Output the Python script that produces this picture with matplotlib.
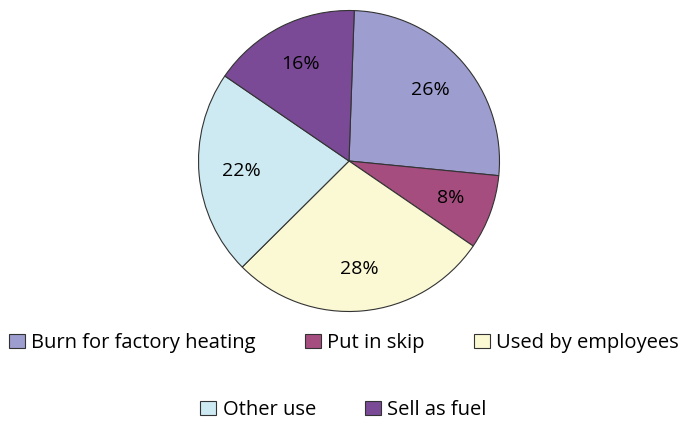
import matplotlib.pyplot as plt

labels = ['Burn for factory heating', 'Put in skip', 'Used by employees',
          'Other use', 'Sell as fuel']
shares = [26, 8, 28, 22, 16]
colors = ['#9d9dcf', '#a64d80', '#fbf8d4', '#cdeaf2', '#7a4a96']

plt.rcParams['font.family'] = ['Open Sans', 'DejaVu Sans']

fig = plt.figure(figsize=(6.87, 4.24), dpi=100)
ax = fig.add_axes([197 / 687, 111 / 424, 304 / 687, 304 / 424])

wedges, texts, autotexts = ax.pie(
    shares, colors=colors, startangle=88, counterclock=False,
    autopct='%d%%', pctdistance=0.72, radius=1,
    wedgeprops=dict(edgecolor='#333333', linewidth=0.8),
    textprops=dict(fontsize=14, color='black'))
ax.set_xlim(-1.01, 1.01)
ax.set_ylim(-1.01, 1.01)
ax.set_aspect('equal')

leg_kw = dict(frameon=False, fontsize=14.5, handlelength=0.8, handleheight=0.7,
              handletextpad=0.3, columnspacing=2.45, borderaxespad=0)
fig.legend(wedges[:3], labels[:3], loc='center', ncol=3,
           bbox_to_anchor=(0.5, 1 - 343 / 424), **leg_kw)
fig.legend(wedges[3:], labels[3:], loc='center', ncol=2,
           bbox_to_anchor=(0.5, 1 - 410 / 424), **leg_kw)

fig.savefig('out.png', dpi=100)
